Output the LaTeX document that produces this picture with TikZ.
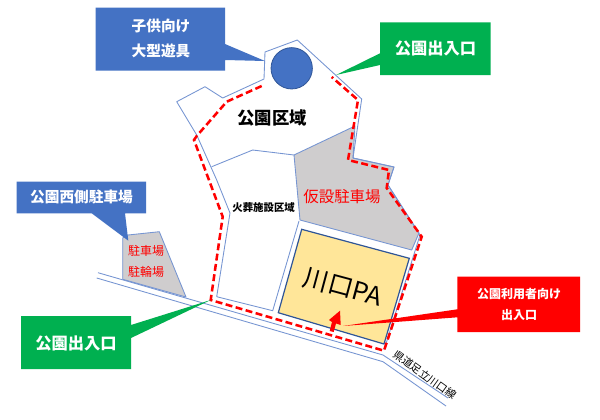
\documentclass[tikz,border=0pt]{standalone}
\usepackage{fontspec}
\setmainfont{Noto Sans CJK JP}
\definecolor{pblue}{HTML}{7695D2}
\definecolor{cblue}{HTML}{4472C4}
\definecolor{cgreen}{HTML}{00B050}
\definecolor{pgray}{HTML}{CFCDCE}
\definecolor{pyellow}{HTML}{FFE699}
\definecolor{dblue}{HTML}{2F5597}
\tikzset{
  x=0.75pt,y=-0.75pt,
  plan/.style={draw=pblue,line width=0.65pt,line join=round},
  parking/.style={plan,fill=pgray},
  route/.style={draw=red,line width=1.9pt,dash pattern=on 5.2pt off 2.6pt,line join=miter},
  callblue/.style={fill=cblue,draw=none},
  callgreen/.style={fill=cgreen,draw=none},
  callred/.style={fill=red,draw=none},
  lab/.style={inner sep=0pt,align=center},
  wlab/.style={lab,text=white,font=\bfseries\fontsize{#1}{#1}\selectfont},
  rlab/.style={lab,text=red,font=\fontsize{#1}{#1}\selectfont},
  klab/.style={lab,text=black,font=\fontsize{#1}{#1}\selectfont},
}
\begin{document}
\begin{tikzpicture}
\useasboundingbox (0,0) rectangle (600,419);
\fill[white] (0,0) rectangle (600,419);
% gray areas
\path[parking] (294,155) -- (355,126) -- (353,158) -- (394,167) -- (388,185) -- (419,233) -- (411.7,250) -- (300,220) -- cycle;
\path[parking] (122.7,238) -- (128,235) -- (159.3,231.7) -- (186,297) -- (122.7,279.3) -- cycle;
% park outline
\draw[plan] (196.7,135) -- (176.7,101.7) -- (205,86.7) -- (222.7,98) -- (264,79) -- (265,52) -- (297.3,40) -- (361.7,99) -- (353,158) -- (394,167) -- (388,185) -- (420,235) -- (384,350);
\draw[plan] (196.7,135) -- (216.7,180) -- (230,213) -- (216.7,296.7) -- (272.7,310.7) -- (299,221);
\draw[plan] (211.7,166.7) -- (252.7,150) -- (294,155);
% road
\draw[plan] (98,272.7) -- (383,355) -- (448,398);
\draw[plan] (96.7,278) -- (383,361.7) -- (446,406);
% PA
\draw[fill=pyellow,draw=dblue,line width=0.9pt] (301.7,229.3) -- (409.3,258.3) -- (384,344) -- (278.3,312.7) -- cycle;
% route
\draw[route] (261.7,86) -- (226.7,101.7) -- (196.7,136) -- (194,140) -- (222.7,216.7) -- (210.7,300) -- (384,350.7) -- (421.7,236.7) -- (386.7,188) -- (389,170) -- (348,160) -- (358,100) -- (331.7,77);
% red arrow
\fill[red] (340,310.7) -- (340.7,325) -- (336,323.5) -- (333.7,332) -- (329.7,331) -- (332,322) -- (329,320) -- cycle;
% circle
\node[circle,fill=cblue,draw=dblue,line width=0.6pt,minimum size=31pt,inner sep=0pt] (pool) at (291.7,68.3) {};
% callouts
\path[callblue] (95.5,7.5) -- (225,7.5) -- (225,44) -- (265,61) -- (225,60) -- (225,70.5) -- (95.5,70.5) -- cycle;
\path[callblue] (16.7,181.7) -- (146,181.7) -- (146,213.3) -- (125,213.3) -- (128.3,240.7) -- (91.7,213.3) -- (16.7,213.3) -- cycle;
\path[callgreen] (21,316) -- (131,316) -- (131,325) -- (210.7,300) -- (131,338) -- (131,369) -- (21,369) -- cycle;
\path[callgreen] (380,22.3) -- (490.7,22.3) -- (490.7,75) -- (380,75) -- (380,65) -- (336,75) -- (380,53.3) -- cycle;
\path[callred] (457.3,276.7) -- (580,276.7) -- (580,332) -- (457.3,332) -- (457.3,317.3) -- (343,326) -- (457.3,309.3) -- cycle;
% labels
\node[wlab=11] (a1) at (161,26) {子供向け};
\node[wlab=11] (a2) at (161,51) {大型遊具};
\node[wlab=12.2] (b) at (435.5,48) {公園出入口};
\node[lab,text=black,font=\bfseries\fontsize{13}{13}\selectfont] (c) at (272,118) {公園区域};
\node[rlab=11.6] (d) at (342,197) {仮設駐車場};
\node[lab,text=black,font=\bfseries\fontsize{7.8}{7.8}\selectfont] (e) at (263.6,207.7) {火葬施設区域};
\node[wlab=11] (f) at (81.5,197) {公園西側駐車場};
\node[rlab=9] (g1) at (146,251) {駐車場};
\node[rlab=9] (g2) at (146,272) {駐輪場};
\node[wlab=12.2] (h) at (76,343) {公園出入口};
\node[klab=19,rotate=-15] (i) at (343,287) {川口PA};
\node[wlab=9] (j1) at (519,294) {公園利用者向け};
\node[wlab=9] (j2) at (519,315) {出入口};
\node[klab=8,rotate=-36] (k) at (425,375) {県道足立川口線};
\end{tikzpicture}
\end{document}
